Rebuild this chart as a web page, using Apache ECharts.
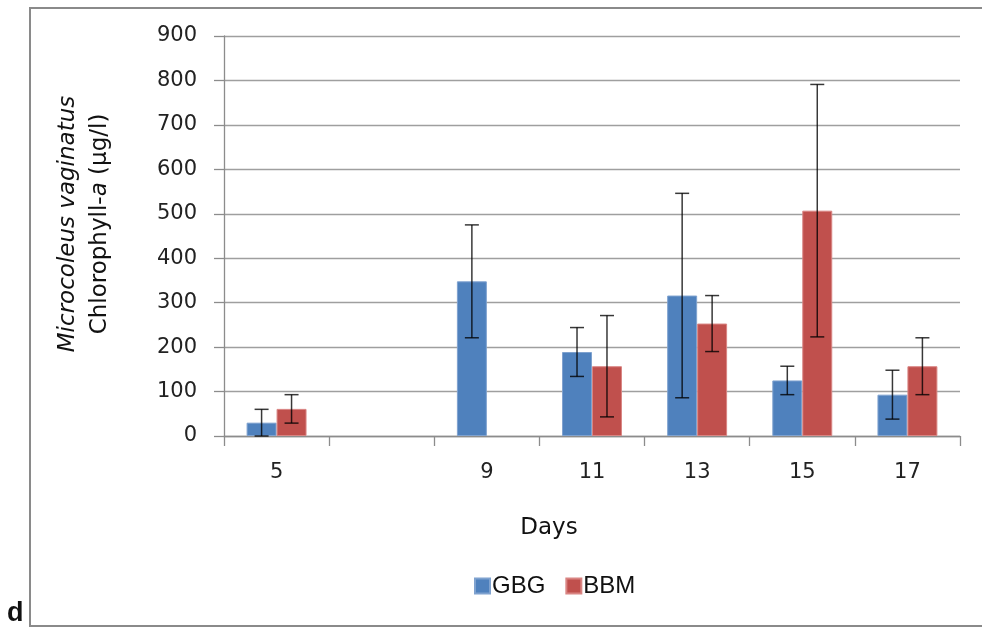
<!DOCTYPE html>
<html><head><meta charset="utf-8">
<script src="https://cdn.jsdelivr.net/npm/echarts@6/dist/echarts.min.js"></script>
<style>html,body{margin:0;padding:0;background:#fff;overflow:hidden}#c{width:982px;height:629px;overflow:hidden}</style>
</head><body><div id="c"></div>
<script>
var days = ['5', '', '9', '11', '13', '15', '17'];
var gbg = [30, null, 348, 189, 316, 125, 93];
var bbm = [61, null, null, 157, 253, 507, 157];
var gbgErr = [30, null, 127, 55, 230, 32, 55];
var bbmErr = [32, null, null, 114, 63, 284, 64];
var yTicks = [0, 900, 100];

var chart = echarts.init(document.getElementById('c'));
var FONT = 'DejaVu Sans';

function errSeries(name, vals, errs, side) {
  var data = [];
  for (var i = 0; i < vals.length; i++) {
    if (vals[i] != null && errs[i] != null) data.push([i, vals[i], errs[i]]);
  }
  return {
    type: 'custom', name: name + ' err', silent: true, z: 10,
    data: data,
    renderItem: function (params, api) {
      var idx = api.value(0), v = api.value(1), e = api.value(2);
      var band = api.size([1, 0])[0];
      var bw = band * 0.57 / 2;
      var c = api.coord([idx, v]);
      var x = c[0] + side * bw / 2;
      var top = api.coord([idx, v + e])[1];
      var bot = api.coord([idx, Math.max(0, v - e)])[1];
      var cap = 7;
      var st = { stroke: 'rgba(0,0,0,0.78)', lineWidth: 1.5 };
      return { type: 'group', children: [
        { type: 'line', shape: { x1: x, y1: top, x2: x, y2: bot }, style: st },
        { type: 'line', shape: { x1: x - cap, y1: top, x2: x + cap, y2: top }, style: st },
        { type: 'line', shape: { x1: x - cap, y1: bot, x2: x + cap, y2: bot }, style: st }
      ]};
    }
  };
}

chart.setOption({
  animation: false,
  backgroundColor: '#fff',
  grid: { left: 224, right: 22, top: 36, bottom: 193, containLabel: false },
  legend: {
    data: ['GBG', 'BBM'], left: 469, top: 569, itemWidth: 15, itemHeight: 15, itemGap: 20,
    icon: 'rect',
    textStyle: { fontFamily: 'Liberation Sans', fontSize: 24, color: '#111', padding: [0, 0, 0, -3] }
  },
  xAxis: {
    type: 'category', data: days,
    axisLine: { lineStyle: { color: '#8c8c8c', width: 1.3 } },
    axisTick: { show: true, interval: 0, length: 10, lineStyle: { color: '#8c8c8c', width: 1.3 } },
    axisLabel: { interval: 0, margin: 26, fontFamily: FONT, fontSize: 21, color: '#222' },
    splitLine: { show: false }
  },
  yAxis: {
    type: 'value', min: yTicks[0], max: yTicks[1], interval: yTicks[2],
    axisLine: { show: true, lineStyle: { color: '#8c8c8c', width: 1.3 } },
    axisTick: { show: true, length: 10, lineStyle: { color: '#8c8c8c', width: 1.3 } },
    axisLabel: { margin: 27, fontFamily: FONT, fontSize: 21, color: '#222' },
    splitLine: { lineStyle: { color: '#9f9f9f', width: 1.3 } }
  },
  series: [
    { name: 'GBG', type: 'bar', data: gbg, barGap: '0%', barCategoryGap: '43%',
      itemStyle: { color: '#4f81bd', borderColor: '#7fa2cf', borderWidth: 1 } },
    { name: 'BBM', type: 'bar', data: bbm, barGap: '0%', barCategoryGap: '43%',
      itemStyle: { color: '#c0504d', borderColor: '#d98583', borderWidth: 1 } },
    errSeries('GBG', gbg, gbgErr, -1),
    errSeries('BBM', bbm, bbmErr, 1)
  ],
  graphic: [
    { type: 'rect', silent: true, z: -1, shape: { x: 30, y: 8, width: 1100, height: 618 },
      style: { stroke: '#8a8a8a', lineWidth: 2, fill: 'transparent' } },
    { type: 'text', left: 7, top: 600, style: { text: 'd', fontFamily: 'Liberation Sans', fontWeight: 'bold', fontSize: 27, fill: '#111' } },
    { type: 'text', x: 549, y: 528, style: { text: 'Days', fontFamily: FONT, fontSize: 23, fill: '#111', align: 'center', verticalAlign: 'middle' } },
    { type: 'text', x: 84, y: 224, rotation: Math.PI / 2,
      style: {
        text: '{i|Microcoleus vaginatus}\n{n|Chlorophyll-}{i|a}{n| (µg/l)}',
        align: 'center', verticalAlign: 'middle', lineHeight: 32,
        rich: {
          i: { fontFamily: FONT, fontStyle: 'italic', fontSize: 23, fill: '#111', lineHeight: 32 },
          n: { fontFamily: FONT, fontSize: 23, fill: '#111', lineHeight: 32 }
        }
      } }
  ]
});
</script>
</body></html>
